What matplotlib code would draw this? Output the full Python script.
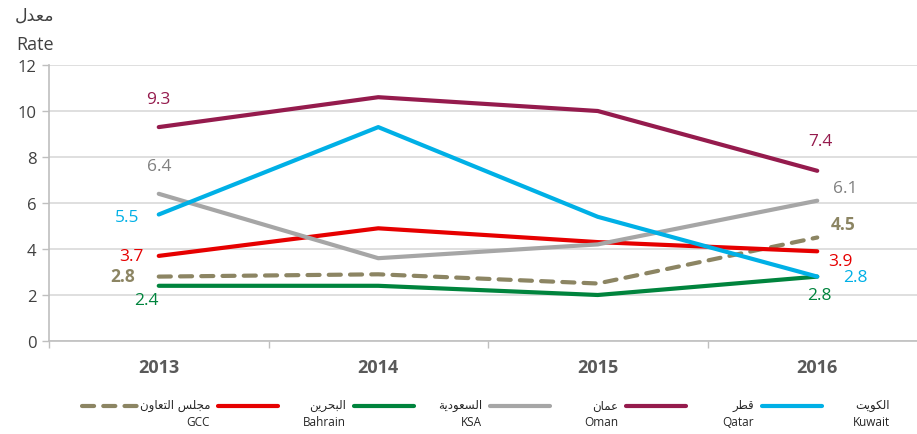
import matplotlib
matplotlib.use("Agg")
import matplotlib.pyplot as plt
from matplotlib.lines import Line2D

years = ["2013", "2014", "2015", "2016"]
gcc = [2.8, 2.9, 2.5, 4.5]
bahrain = [3.7, 4.9, 4.3, 3.9]
ksa = [2.4, 2.4, 2.0, 2.8]
oman = [6.4, 3.6, 4.2, 6.1]
qatar = [9.3, 10.6, 10.0, 7.4]
kuwait = [5.5, 9.3, 5.4, 2.8]

names_ar = ["مجلس التعاون", "البحرين", "السعودية", "عمان", "قطر", "الكويت"]
names_en = ["GCC", "Bahrain", "KSA", "Oman", "Qatar", "Kuwait"]
y_title_ar = "معدل"
y_title_en = "Rate"
yticks = [0, 2, 4, 6, 8, 10, 12]

# --- minimal Arabic shaping (presentation forms) ---
FORMS = {
    'ا': (0xFE8D, 0xFE8E, None, None),
    'ب': (0xFE8F, 0xFE90, 0xFE91, 0xFE92),
    'ة': (0xFE93, 0xFE94, None, None),
    'ت': (0xFE95, 0xFE96, 0xFE97, 0xFE98),
    'ث': (0xFE99, 0xFE9A, 0xFE9B, 0xFE9C),
    'ج': (0xFE9D, 0xFE9E, 0xFE9F, 0xFEA0),
    'ح': (0xFEA1, 0xFEA2, 0xFEA3, 0xFEA4),
    'د': (0xFEA9, 0xFEAA, None, None),
    'ر': (0xFEAD, 0xFEAE, None, None),
    'س': (0xFEB1, 0xFEB2, 0xFEB3, 0xFEB4),
    'ط': (0xFEC1, 0xFEC2, 0xFEC3, 0xFEC4),
    'ع': (0xFEC9, 0xFECA, 0xFECB, 0xFECC),
    'ق': (0xFED5, 0xFED6, 0xFED7, 0xFED8),
    'ك': (0xFED9, 0xFEDA, 0xFEDB, 0xFEDC),
    'ل': (0xFEDD, 0xFEDE, 0xFEDF, 0xFEE0),
    'م': (0xFEE1, 0xFEE2, 0xFEE3, 0xFEE4),
    'ن': (0xFEE5, 0xFEE6, 0xFEE7, 0xFEE8),
    'ه': (0xFEE9, 0xFEEA, 0xFEEB, 0xFEEC),
    'و': (0xFEED, 0xFEEE, None, None),
    'ي': (0xFEF1, 0xFEF2, 0xFEF3, 0xFEF4),
}


def shape_word(w):
    out = []
    n = len(w)
    for i, ch in enumerate(w):
        f = FORMS.get(ch)
        if f is None:
            out.append(ch)
            continue
        prev = w[i - 1] if i > 0 else None
        nxt = w[i + 1] if i < n - 1 else None
        join_prev = prev is not None and prev in FORMS and FORMS[prev][2] is not None
        join_next = nxt is not None and nxt in FORMS and f[2] is not None
        if join_prev and join_next:
            c = f[3]
        elif join_prev:
            c = f[1]
        elif join_next:
            c = f[2]
        else:
            c = f[0]
        out.append(chr(c))
    return "".join(out)


def shape(s):
    words = [shape_word(w) for w in s.split(" ")]
    return " ".join(words)[::-1]


AR_FONT = ["DejaVu Sans"]
plt.rcParams['font.family'] = ["Open Sans", "DejaVu Sans"]

W, H = 917, 435
fig = plt.figure(figsize=(W / 100, H / 100), dpi=100)
ax = fig.add_axes([49 / W, 93 / H, (927 - 49) / W, 276 / H])

series = [gcc, bahrain, ksa, oman, qatar, kuwait]
colors = ["#8C8563", "#E60000", "#00843D", "#A6A6A6", "#951B4D", "#00B0E6"]
label_colors = ["#8C8563", "#E60000", "#00843D", "#808080", "#951B4D", "#00B0E6"]
styles = [(0, (2.9, 2.2)), "-", "-", "-", "-", "-"]
x = list(range(len(years)))

for idx in [0, 1, 2, 3, 5, 4]:
    ax.plot(x, series[idx], color=colors[idx], lw=3.0, linestyle=styles[idx],
            solid_capstyle="round", dash_capstyle="round", zorder=3)

ax.set_xlim(-0.5, len(years) - 0.5)
ax.set_ylim(0, 12)
ax.set_yticks(yticks)
ax.set_yticklabels([str(v) for v in yticks], fontsize=12, color="#404040")
ax.set_xticks(x)
ax.set_xticklabels(years, fontsize=13, fontweight="bold", color="#595959")
ax.set_xticks([i - 0.5 for i in range(len(years) + 1)], minor=True)
ax.tick_params(axis="x", which="major", length=0, pad=12)
ax.tick_params(axis="x", which="minor", length=5, color="#BFBFBF", width=1)
ax.tick_params(axis="y", length=5, color="#BFBFBF", width=1, pad=4)
ax.grid(axis="y", color="#D9D9D9", lw=1.2, zorder=0)
for s in ["top", "right"]:
    ax.spines[s].set_visible(False)
ax.spines["left"].set_color("#BFBFBF")
ax.spines["bottom"].set_color("#BFBFBF")
ax.spines["left"].set_linewidth(1.2)
ax.spines["bottom"].set_linewidth(1.2)


def lab(i, v, dx, dy, color, ha="center", bold=False):
    ax.annotate(f"{v:.1f}", (i, v), xytext=(dx, dy), textcoords="offset pixels",
                ha=ha, va="center", fontsize=12.5, color=color,
                fontweight="bold" if bold else "normal", zorder=5)


lab(0, qatar[0], 0, 28, label_colors[4])
lab(3, qatar[3], 3, 30, label_colors[4])
lab(0, oman[0], 0, 28, label_colors[3])
lab(3, oman[3], 28, 13, label_colors[3])
lab(0, kuwait[0], -32, -3, label_colors[5])
lab(3, kuwait[3], 38, 0, label_colors[5])
lab(0, bahrain[0], -27, 0, label_colors[1])
lab(3, bahrain[3], 23, -10, label_colors[1])
lab(0, gcc[0], -36, 1, label_colors[0], bold=True)
lab(3, gcc[3], 26, 13, label_colors[0], bold=True)
lab(0, ksa[0], -12, -14, label_colors[2])
lab(3, ksa[3], 2, -18, label_colors[2])

fig.text(35 / W, 1 - 16 / H, shape(y_title_ar), ha="center", va="center",
         fontsize=12.5, color="#404040", family=AR_FONT)
fig.text(35 / W, 1 - 45 / H, y_title_en, ha="center", va="center",
         fontsize=13, color="#404040")

for k in range(len(names_en)):
    x0 = 82 + 136 * k
    x1 = x0 + 60
    xr = x0 + 128
    fig.add_artist(Line2D([x0 / W, x1 / W], [1 - 407 / H, 1 - 407 / H],
                          color=colors[k], lw=3.0, linestyle=styles[k],
                          solid_capstyle="round", dash_capstyle="round"))
    fig.text(xr / W, 1 - 406 / H, shape(names_ar[k]), ha="right", va="center",
             fontsize=8.5, color="#262626", family=AR_FONT)
    fig.text(xr / W, 1 - 423 / H, names_en[k], ha="right", va="center",
             fontsize=8.5, color="#262626")

fig.savefig("out.png", dpi=100)
